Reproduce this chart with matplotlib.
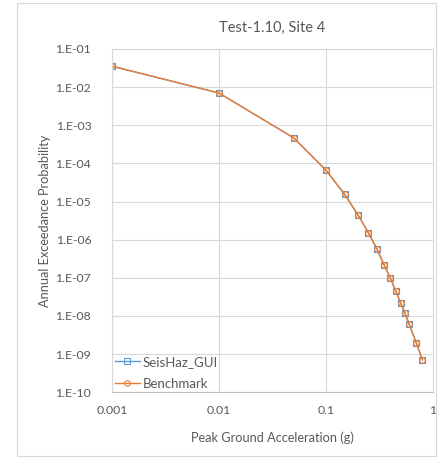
import math

import matplotlib.pyplot as plt
from matplotlib.patches import Rectangle
from matplotlib.ticker import FixedLocator, FuncFormatter

plt.rcParams['font.family'] = ['Lato', 'DejaVu Sans']

# PGA levels (g) and annual exceedance probabilities
pga = [0.001, 0.01, 0.05, 0.1, 0.15, 0.2, 0.25, 0.3, 0.35, 0.4,
       0.45, 0.5, 0.55, 0.6, 0.7, 0.8]
seishaz = [3.52e-2, 6.97e-3, 4.66e-4, 6.68e-5, 1.54e-5, 4.43e-6, 1.53e-6,
           5.71e-7, 2.22e-7, 9.94e-8, 4.62e-8, 2.24e-8, 1.18e-8, 6.21e-9,
           2.01e-9, 7.10e-10]
benchmark = [3.52e-2, 6.97e-3, 4.66e-4, 6.68e-5, 1.54e-5, 4.43e-6, 1.53e-6,
             5.71e-7, 2.22e-7, 9.94e-8, 4.62e-8, 2.24e-8, 1.18e-8, 6.21e-9,
             2.01e-9, 7.10e-10]

blue = "#5b9bd5"
orange = "#ed7d31"
txt = "#595959"
grid_c = "#d9d9d9"

fig = plt.figure(figsize=(4.38, 4.61), dpi=100)
fig.patches.append(Rectangle((17 / 438, 5 / 461), 419 / 438, 453 / 461,
                             transform=fig.transFigure, fill=False,
                             edgecolor=grid_c, linewidth=0.8))
ax = fig.add_axes([0.2557, 0.149, 0.7323, 0.745])

ax.plot(pga, seishaz, color=blue, linewidth=1.0, marker='s', markersize=4.5,
        markerfacecolor='none', markeredgecolor=blue, markeredgewidth=0.8,
        label='SeisHaz_GUI')
ax.plot(pga, benchmark, color=orange, linewidth=1.0, marker='o', markersize=4,
        markerfacecolor='none', markeredgecolor=orange, markeredgewidth=0.8,
        label='Benchmark')

ax.set_xscale('log')
ax.set_yscale('log')
ax.set_xlim(0.001, 1)
ax.set_ylim(1e-10, 1e-1)

ax.xaxis.set_major_locator(FixedLocator([0.001, 0.01, 0.1, 1]))
ax.xaxis.set_major_formatter(FuncFormatter(lambda v, p: f"{v:g}"))
ax.yaxis.set_major_locator(FixedLocator([10.0 ** e for e in range(-10, 0)]))
ax.yaxis.set_major_formatter(FuncFormatter(lambda v, p: "1.E%03d" % round(math.log10(v))))
ax.minorticks_off()

ax.tick_params(length=0, labelsize=8.8, labelcolor=txt)
ax.tick_params(axis='y', pad=15)
ax.tick_params(axis='x', pad=9)
ax.grid(True, color=grid_c, linewidth=0.8)
for s in ax.spines.values():
    s.set_color(grid_c)
    s.set_linewidth(0.8)
ax.spines['bottom'].set_color("#bfbfbf")

ax.set_title('Test-1.10, Site 4', fontsize=10.5, color=txt, pad=12)
ax.set_xlabel('Peak Ground Acceleration (g)', fontsize=9.2, color=txt, labelpad=11)
ax.set_ylabel('Annual Exceedance Probability', fontsize=9.2, color=txt, labelpad=3)

leg = ax.legend(loc='lower left', frameon=False, fontsize=9.5,
                handlelength=1.9, handletextpad=0.2, labelspacing=0.75,
                borderaxespad=0.0, borderpad=0.2)
for t in leg.get_texts():
    t.set_color(txt)

fig.savefig('out.png', dpi=100)
